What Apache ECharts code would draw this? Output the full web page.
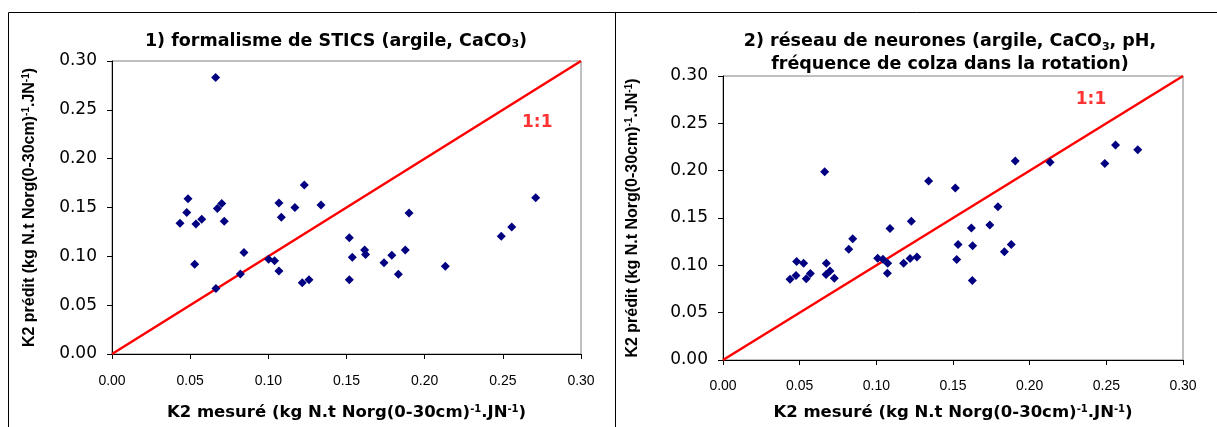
<!DOCTYPE html>
<html><head><meta charset="utf-8">
<script src="https://cdn.jsdelivr.net/npm/echarts@6/dist/echarts.min.js"></script>
<style>html,body{margin:0;padding:0;background:#fff}#c{width:1217px;height:427px}</style>
</head><body><div id="c"></div>
<script>
// ---- data ----
const xTicks = [0.00, 0.05, 0.10, 0.15, 0.20, 0.25, 0.30];
const yTicks = [0.00, 0.05, 0.10, 0.15, 0.20, 0.25, 0.30];
const sticsMeasured = [0.0435,0.0478,0.0486,0.0529,0.0537,0.0574,0.0663,0.0665,0.0674,0.0702,0.0718,0.0821,0.0844,0.1002,0.104,0.1068,0.1068,0.1083,0.117,0.1217,0.123,0.126,0.1337,0.1518,0.1537,0.1518,0.1616,0.1622,0.174,0.179,0.1832,0.1876,0.190,0.2132,0.249,0.2557,0.271];
const sticsPredicted = [0.134,0.145,0.159,0.092,0.133,0.138,0.283,0.067,0.149,0.154,0.136,0.082,0.104,0.097,0.0955,0.085,0.1546,0.140,0.150,0.073,0.173,0.076,0.1526,0.119,0.099,0.076,0.1065,0.102,0.0935,0.101,0.0816,0.1065,0.1444,0.0898,0.1205,0.130,0.160];
const nnMeasured = [0.0437,0.0476,0.048,0.0526,0.0543,0.057,0.0663,0.0674,0.0672,0.0698,0.0726,0.082,0.0846,0.1009,0.1043,0.1074,0.1072,0.1089,0.1178,0.122,0.1265,0.1228,0.1341,0.1515,0.162,0.1533,0.1524,0.1628,0.1626,0.174,0.1793,0.1835,0.188,0.1906,0.2133,0.249,0.256,0.2705];
const nnPredicted = [0.0853,0.0892,0.104,0.1023,0.0857,0.0914,0.1988,0.1023,0.0903,0.0941,0.0864,0.117,0.128,0.1076,0.1065,0.1023,0.0917,0.139,0.1023,0.1072,0.1087,0.1465,0.189,0.1818,0.1394,0.122,0.1062,0.1206,0.084,0.1426,0.162,0.1143,0.122,0.2101,0.209,0.2076,0.227,0.2221];
const oneToOne = [[0, 0], [0.30, 0.30]];
const titles = ['1) formalisme de STICS (argile, CaCO{sub|3})',
                '2) réseau de neurones (argile, CaCO{sub|3}, pH,\nfréquence de colza dans la rotation)'];
const xName = 'K2 mesuré (kg N.t Norg(0-30cm){sup|-1}.JN{sup|-1})';
const yName = 'K2 prédit (kg N.t Norg(0-30cm){sup|-1}.JN{sup|-1})';

// ---- chart ----
const zip = (a, b) => a.map((v, i) => [v, b[i]]);
const chart = echarts.init(document.getElementById('c'), null, {renderer: 'canvas'});
const F = 'Liberation Sans, Arial, sans-serif';
const W = 'DejaVu Sans, sans-serif';
function supRich(fam) {
  return {sup: {fontSize: 10, fontWeight: 'bold', fontFamily: fam, color: '#000', verticalAlign: 'top', padding: [0, 0, 8, 0]}};
}
function xAxis(i, gap, margin) {
  return {
    type: 'value', gridIndex: i, min: 0, max: 0.30, interval: 0.05,
    name: xName, nameLocation: 'middle', nameGap: gap,
    nameTextStyle: {fontFamily: W, fontWeight: 'bold', fontSize: 16.5, color: '#000', rich: supRich(W)},
    axisLine: {show: true, onZero: false, lineStyle: {color: '#000', width: 1}},
    axisTick: {show: true, inside: false, length: 5, lineStyle: {color: '#000'}},
    axisLabel: {fontFamily: F, fontSize: 14, color: '#000', margin: margin,
      formatter: v => v.toFixed(2)},
    splitLine: {show: false}
  };
}
function yAxis(i, gap) {
  return {
    type: 'value', gridIndex: i, min: 0, max: 0.30, interval: 0.05,
    name: yName, nameLocation: 'middle', nameGap: gap, nameRotate: 90,
    nameTextStyle: {fontFamily: F, fontWeight: 'bold', fontSize: 16, color: '#000', rich: supRich(F)},
    axisLine: {show: true, onZero: false, lineStyle: {color: '#000', width: 1}},
    axisTick: {show: true, inside: false, length: 5, lineStyle: {color: '#000'}},
    axisLabel: {fontFamily: W, fontSize: 17, color: '#000', margin: 15,
      formatter: v => v.toFixed(2)},
    splitLine: {show: false}
  };
}
const titleRich = {sub: {fontSize: 11, fontWeight: 'bold', fontFamily: W, color: '#000', verticalAlign: 'bottom', padding: [7, 0, 0, 0]}};
function scatter(i, data) {
  return {type: 'scatter', xAxisIndex: i, yAxisIndex: i, data: data, symbol: 'diamond', symbolSize: 9,
    itemStyle: {color: '#000080', opacity: 1}, z: 5, silent: true};
}
function line11(i) {
  return {type: 'line', xAxisIndex: i, yAxisIndex: i, data: oneToOne, symbol: 'none', clip: true,
    lineStyle: {color: '#ff0000', width: 2.5}, z: 3, silent: true};
}
function label11(i, pos) {
  return {type: 'scatter', xAxisIndex: i, yAxisIndex: i, data: [pos], symbolSize: 0, silent: true,
    label: {show: true, position: 'inside', formatter: '1:1', color: '#ff0000', fontFamily: W,
      fontWeight: 'bold', fontSize: 17}};
}

chart.setOption({
  backgroundColor: '#fff',
  animation: false,
  title: [
    {text: titles[0], left: 331, top: 27, textAlign: 'center',
      textStyle: {fontFamily: W, fontWeight: 'bold', fontSize: 17.5, color: '#000', rich: titleRich}},
    {text: titles[1], left: 945, top: 25, textAlign: 'center',
      textStyle: {fontFamily: W, fontWeight: 'bold', fontSize: 17.5, lineHeight: 23, color: '#000', rich: titleRich}}
  ],
  grid: [
    {left: 112, top: 61, width: 469, height: 293, show: true, borderColor: '#808080', borderWidth: 1, backgroundColor: 'transparent'},
    {left: 723, top: 76, width: 460, height: 284, show: true, borderColor: '#808080', borderWidth: 1, backgroundColor: 'transparent'}
  ],
  xAxis: [xAxis(0, 50, 20), xAxis(1, 44, 19)],
  yAxis: [yAxis(0, 73), yAxis(1, 81)],
  series: [
    line11(0), scatter(0, zip(sticsMeasured, sticsPredicted)), label11(0, [0.272, 0.2365]),
    line11(1), scatter(1, zip(nnMeasured, nnPredicted)), label11(1, [0.240, 0.2746])
  ],
  graphic: [
    {type: 'rect', shape: {x: 8.5, y: 12.5, width: 607, height: 440}, style: {fill: 'none', stroke: '#000', lineWidth: 1}, silent: true},
    {type: 'rect', shape: {x: 615.5, y: 12.5, width: 620, height: 440}, style: {fill: 'none', stroke: '#000', lineWidth: 1}, silent: true}
  ]
});
</script></body></html>
